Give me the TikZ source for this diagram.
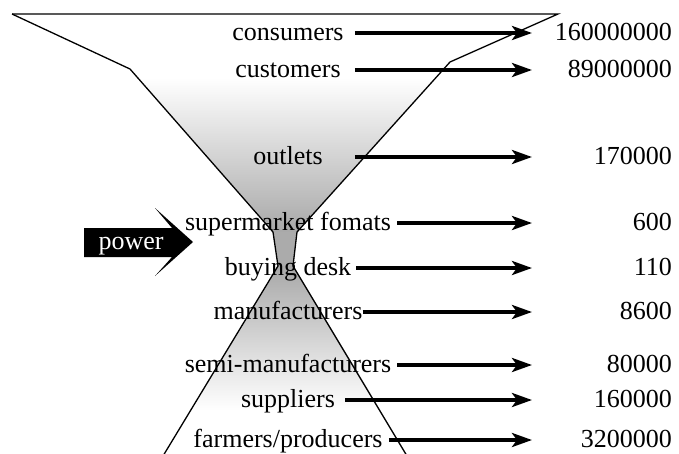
\documentclass[tikz,border=0pt]{standalone}
\usepackage{fontspec}
\setmainfont{Liberation Serif}
\usetikzlibrary{positioning,arrows.meta,calc}

\begin{document}
\begin{tikzpicture}[x=1pt,y=-1pt,
    every node/.style={font=\fontsize{26}{30}\selectfont,inner sep=0pt,text height=18pt,text depth=4pt},
    level/.style={anchor=center},
    count/.style={anchor=east},
    flow/.style={line width=4pt,-{Stealth[length=20pt,width=14pt,inset=5pt]}},
    rim/.style={line width=1.3pt,line join=miter}]
  \useasboundingbox (0,0) rectangle (679,453);
  % shading of the funnel
  \shade[top color=white,bottom color=black!34] (138,78) -- (436,78) -- (297,232) -- (273,232) -- cycle;
  \fill[black!33] (273,232) -- (297,232) -- (293,266) -- (278,266) -- cycle;
  \shade[top color=black!34,bottom color=white] (278,266) -- (293,266) -- (381,410) -- (190,410) -- cycle;
  % outline
  \draw[rim] (12,14) -- (558,14) -- (450,62) -- (297,232) -- (293,266) -- (407,456);
  \draw[rim] (12,14) -- (130,69) -- (273,232) -- (278,266) -- (163,456);
  % tips of the arrows
  \coordinate (tip) at (532,0);
  \foreach \name/\txt/\num/\y/\gap in {consumers/consumers/160000000/33/11,
      customers/customers/89000000/70/14,
      outlets/outlets/170000/157/32,
      formats/supermarket fomats/600/223/6,
      desk/buying desk/110/268/5,
      manufacturers/manufacturers/8600/312/0,
      semi/semi-manufacturers/80000/365/6,
      suppliers/suppliers/160000/400/10,
      farmers/{farmers/producers}/3200000/440/6}{
    \node[level] (\name) at (288,\y) {\txt};
    \node[count] (\name-n) at (672,\y) {\num};
    \draw[flow] ([xshift=\gap]\name.east) -- (\name.east -| tip);
  }
  % power arrow
  \fill (84,228) -- (172,228) -- (155,208) -- (193,242) -- (155,276) -- (172,257) -- (84,257) -- cycle;
  \node[text=white] (power) at (131,242) {power};
\end{tikzpicture}
\end{document}
